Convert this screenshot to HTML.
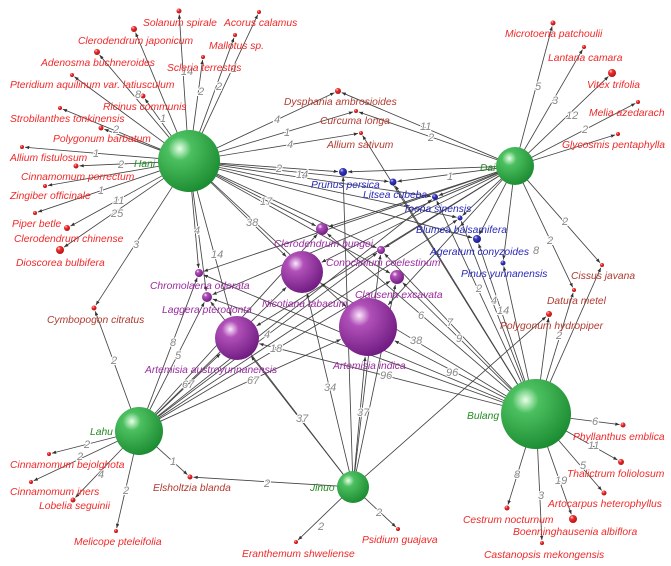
<!DOCTYPE html>
<html><head><meta charset="utf-8">
<style>
html,body{margin:0;padding:0;background:#fff;}
svg{display:block;font-family:"Liberation Sans",Arial,sans-serif;font-style:italic;}
.r{fill:#f02828;font-size:10.3px;}
.b{fill:#b03a30;font-size:10.3px;}
.p{fill:#9a2aa0;font-size:10.3px;}
.u{fill:#2828b8;font-size:10.3px;}
.g{fill:#228b22;font-size:10.3px;}
.n{fill:#888;font-size:11px;stroke:#fff;stroke-width:2px;paint-order:stroke;}
</style></head><body>
<svg id="s" width="671" height="566" viewBox="0 0 671 566" xmlns="http://www.w3.org/2000/svg">
<defs>
<radialGradient id="gg" cx="0.35" cy="0.3" r="0.75"><stop offset="0" stop-color="#e8ffe8"/><stop offset="0.25" stop-color="#4cc060"/><stop offset="1" stop-color="#1a8a30"/></radialGradient>
<radialGradient id="gp" cx="0.35" cy="0.3" r="0.75"><stop offset="0" stop-color="#fbe8fb"/><stop offset="0.25" stop-color="#b050b8"/><stop offset="1" stop-color="#6e1a80"/></radialGradient>
<radialGradient id="gb" cx="0.35" cy="0.3" r="0.75"><stop offset="0" stop-color="#d8d8ff"/><stop offset="0.3" stop-color="#3a3ac0"/><stop offset="1" stop-color="#1a1a80"/></radialGradient>
<radialGradient id="gr" cx="0.35" cy="0.3" r="0.75"><stop offset="0" stop-color="#ffe0e0"/><stop offset="0.3" stop-color="#f03030"/><stop offset="1" stop-color="#b01010"/></radialGradient>
<marker id="ar" viewBox="0 0 10 10" refX="10" refY="5" markerWidth="5" markerHeight="5" orient="auto"><path d="M0,1 L10,5 L0,9z" fill="#333"/></marker>
</defs>
<g id="E" stroke="#444" stroke-width="0.85" fill="none"></g>
<g id="N"></g>
<g>
<text class="n" x="181" y="75">14</text><text class="n" x="198" y="95">2</text><text class="n" x="216" y="90">2</text><text class="n" x="231" y="72">1</text>
<text class="n" x="135" y="98">8</text><text class="n" x="160" y="122">1</text><text class="n" x="113" y="133">2</text><text class="n" x="93" y="157">1</text>
<text class="n" x="118" y="168">2</text><text class="n" x="98" y="194">1</text><text class="n" x="113" y="204">11</text><text class="n" x="111" y="217">25</text>
<text class="n" x="133" y="248">3</text><text class="n" x="274" y="123">4</text><text class="n" x="284" y="136">1</text><text class="n" x="287" y="148">4</text>
<text class="n" x="276" y="172">2</text><text class="n" x="296" y="178">14</text><text class="n" x="260" y="205">17</text><text class="n" x="246" y="226">38</text>
<text class="n" x="194" y="234">4</text><text class="n" x="211" y="258">14</text>
<text class="n" x="535" y="90">5</text><text class="n" x="552" y="104">3</text><text class="n" x="566" y="119">12</text><text class="n" x="582" y="133">2</text>
<text class="n" x="420" y="130">11</text><text class="n" x="428" y="141">2</text><text class="n" x="447" y="180">1</text><text class="n" x="562" y="225">2</text>
<text class="n" x="547" y="244">2</text><text class="n" x="533" y="254">8</text>
<text class="n" x="111" y="364">2</text><text class="n" x="170" y="346">8</text><text class="n" x="175" y="359">5</text><text class="n" x="182" y="388">67</text>
<text class="n" x="247" y="384">67</text><text class="n" x="270" y="352">18</text><text class="n" x="264" y="338">4</text>
<text class="n" x="84" y="448">2</text><text class="n" x="77" y="460">2</text><text class="n" x="98" y="478">4</text><text class="n" x="123" y="494">2</text>
<text class="n" x="170" y="465">1</text><text class="n" x="264" y="487">2</text><text class="n" x="296" y="422">37</text>
<text class="n" x="318" y="530">2</text><text class="n" x="376" y="516">2</text><text class="n" x="357" y="416">37</text><text class="n" x="324" y="391">34</text>
<text class="n" x="592" y="425">6</text><text class="n" x="588" y="449">11</text><text class="n" x="580" y="469">5</text><text class="n" x="555" y="484">19</text>
<text class="n" x="538" y="499">3</text><text class="n" x="514" y="478">8</text><text class="n" x="410" y="344">38</text><text class="n" x="446" y="376">96</text>
<text class="n" x="380" y="379">96</text><text class="n" x="418" y="319">6</text><text class="n" x="447" y="326">7</text><text class="n" x="456" y="342">9</text>
<text class="n" x="476" y="292">2</text><text class="n" x="491" y="304">4</text><text class="n" x="497" y="314">14</text><text class="n" x="556" y="339">2</text>
</g>
<g>
<text class="g" x="134" y="167">Hani</text><text class="g" x="480" y="171">Dai</text><text class="g" x="90" y="435">Lahu</text>
<text class="g" x="310" y="491">Jinuo</text><text class="g" x="467" y="419">Bulang</text>
<text class="r" x="143" y="26">Solanum spirale</text><text class="r" x="224" y="26">Acorus calamus</text>
<text class="r" x="78" y="44">Clerodendrum japonicum</text><text class="r" x="209" y="49">Mallotus sp.</text>
<text class="r" x="41" y="66">Adenosma buchneroides</text><text class="r" x="167" y="71">Scleria terrestris</text>
<text class="r" x="10" y="88">Pteridium aquilinum var. latiusculum</text><text class="r" x="103" y="110">Ricinus communis</text>
<text class="r" x="10" y="122">Strobilanthes tonkinensis</text><text class="r" x="53" y="142">Polygonum barbatum</text>
<text class="r" x="10" y="161">Allium fistulosum</text><text class="r" x="21" y="180">Cinnamomum porrectum</text>
<text class="r" x="10" y="199">Zingiber officinale</text><text class="r" x="12" y="227">Piper betle</text>
<text class="r" x="14" y="242">Clerodendrum chinense</text><text class="r" x="16" y="266">Dioscorea bulbifera</text>
<text class="b" x="47" y="323">Cymbopogon citratus</text>
<text class="b" x="284" y="105">Dysphania ambrosioides</text><text class="b" x="320" y="124">Curcuma longa</text><text class="b" x="327" y="148">Allium sativum</text>
<text class="r" x="505" y="37">Microtoena patchoulii</text><text class="r" x="548" y="61">Lantana camara</text>
<text class="r" x="587" y="88">Vitex trifolia</text><text class="r" x="589" y="116">Melia azedarach</text>
<text class="r" x="562" y="148">Glycosmis pentaphylla</text><text class="b" x="571" y="279">Cissus javana</text>
<text class="b" x="547" y="304">Datura metel</text><text class="b" x="500" y="329">Polygonum hydropiper</text>
<text class="r" x="573" y="440">Phyllanthus emblica</text><text class="r" x="567" y="477">Thalictrum foliolosum</text>
<text class="r" x="548" y="507">Artocarpus heterophyllus</text><text class="r" x="513" y="535">Boenninghausenia albiflora</text>
<text class="r" x="463" y="523">Cestrum nocturnum</text><text class="r" x="484" y="558">Castanopsis mekongensis</text>
<text class="r" x="362" y="543">Psidium guajava</text><text class="r" x="242" y="557">Eranthemum shweliense</text>
<text class="b" x="153" y="491">Elsholtzia blanda</text>
<text class="r" x="10" y="468">Cinnamomum bejolghota</text><text class="r" x="10" y="495">Cinnamomum iners</text>
<text class="r" x="39" y="509">Lobelia seguinii</text><text class="r" x="74" y="545">Melicope pteleifolia</text>
<text class="u" x="311" y="188">Prunus persica</text><text class="u" x="363" y="198">Litsea cubeba</text>
<text class="u" x="403" y="212">Toona sinensis</text><text class="u" x="416" y="233">Blumea balsamifera</text>
<text class="u" x="430" y="255">Ageratum conyzoides</text><text class="u" x="461" y="277">Pinus yunnanensis</text>
<text class="p" x="274" y="247">Clerodendrum bungei</text><text class="p" x="326" y="266">Conoclinium coelestinum</text>
<text class="p" x="262" y="307">Nicotiana tabacum</text><text class="p" x="355" y="298">Clausena excavata</text>
<text class="p" x="333" y="369">Artemisia indica</text><text class="p" x="150" y="289">Chromolaena odorata</text>
<text class="p" x="162" y="313">Laggera pterodonta</text><text class="p" x="145" y="373">Artemisia austroyunnanensis</text>
</g>
</svg>
<script>
var H={Hani:[189,161,31],Dai:[515,166,19],Lahu:[139,431,24],Jinuo:[353,487,16],Bulang:[536,414,35]};
var P={cb:[322,229,6,'gp'],nt:[302,272,21,'gp'],cc:[381,250,4,'gp'],ce:[397,277,7,'gp'],ai:[368,327,29,'gp'],co:[199,273,4,'gp'],lp:[207,297,5,'gp'],aa:[237,338,22,'gp'],
pp:[343,172,4,'gb'],lc:[393,182,3.5,'gb'],ts:[435,197,3,'gb'],bb:[460,218,2.5,'gb'],ac:[477,239,4,'gb'],py:[503,263,2.5,'gb'],
ss:[179,11,2.5],aca:[259,12,2],cj:[134,29,3],ms:[235,35,2],ab:[97,52,3],st:[203,57,2],pa:[72,75,2],rc:[143,96,2.5],stt:[60,108,2],pb:[101,128,2.5],af:[22,147,2],cp:[76,166,2.5],zo:[45,186,2],pbt:[35,213,2],cch:[67,228,3],db:[60,250,4],cy:[94,308,2.5],
da:[338,91,3],cl:[356,111,2],as:[361,133,2],mp:[553,23,2.5],lca:[584,47,2],vt:[612,73,4],ma:[638,102,2],gpn:[618,134,2],cjv:[602,265,2],
dm:[574,290,2],ph:[549,314,3],pe:[623,425,2.5],tf:[621,462,3],ah:[604,493,2.5],ba:[573,519,4],cn:[507,508,2.5],cm:[542,543,2],pg:[398,529,2],es:[296,542,2],eb:[190,477,2.5],
cbj:[49,454,2],ci:[31,482,2],ls:[73,500,2.5],mpt:[116,531,2]};
var E={Hani:'ss aca cj ms ab st pa rc stt pb af cp zo pbt cch db cy da cl as pp lc ts bb ac cb nt cc ce ai co lp aa',
Dai:'mp lca vt ma gpn cjv da cl lc ts bb ac py pp nt cb cc ai aa co lp dm',
Lahu:'cbj ci ls mpt eb cy co lp aa nt ai cb ce cc ts bb',
Jinuo:'eb es pg ph aa ai nt ce cc lp pp',
Bulang:'pe tf ah ba cn cm ai aa nt ce cc cb lp co as lc ts bb ac py dm ph cjv'};
var ns='http://www.w3.org/2000/svg',Eg=document.getElementById('E'),Ng=document.getElementById('N');
for(var h in E){var a=H[h];E[h].split(' ').forEach(function(k){var b=P[k];var dx=b[0]-a[0],dy=b[1]-a[1],d=Math.hypot(dx,dy);
var l=document.createElementNS(ns,'line');l.setAttribute('x1',a[0]+dx/d*a[2]*0.8);l.setAttribute('y1',a[1]+dy/d*a[2]*0.8);
l.setAttribute('x2',b[0]-dx/d*(b[2]+1));l.setAttribute('y2',b[1]-dy/d*(b[2]+1));l.setAttribute('marker-end','url(#ar)');Eg.appendChild(l);});}
function c(x,y,r,f){var e=document.createElementNS(ns,'circle');e.setAttribute('cx',x);e.setAttribute('cy',y);e.setAttribute('r',r);e.setAttribute('fill','url(#'+f+')');Ng.appendChild(e);}
for(var k in P){var p=P[k];c(p[0],p[1],p[2],p[3]||'gr');}
for(var h in H){var a=H[h];c(a[0],a[1],a[2],'gg');}
</script>
</body></html>
